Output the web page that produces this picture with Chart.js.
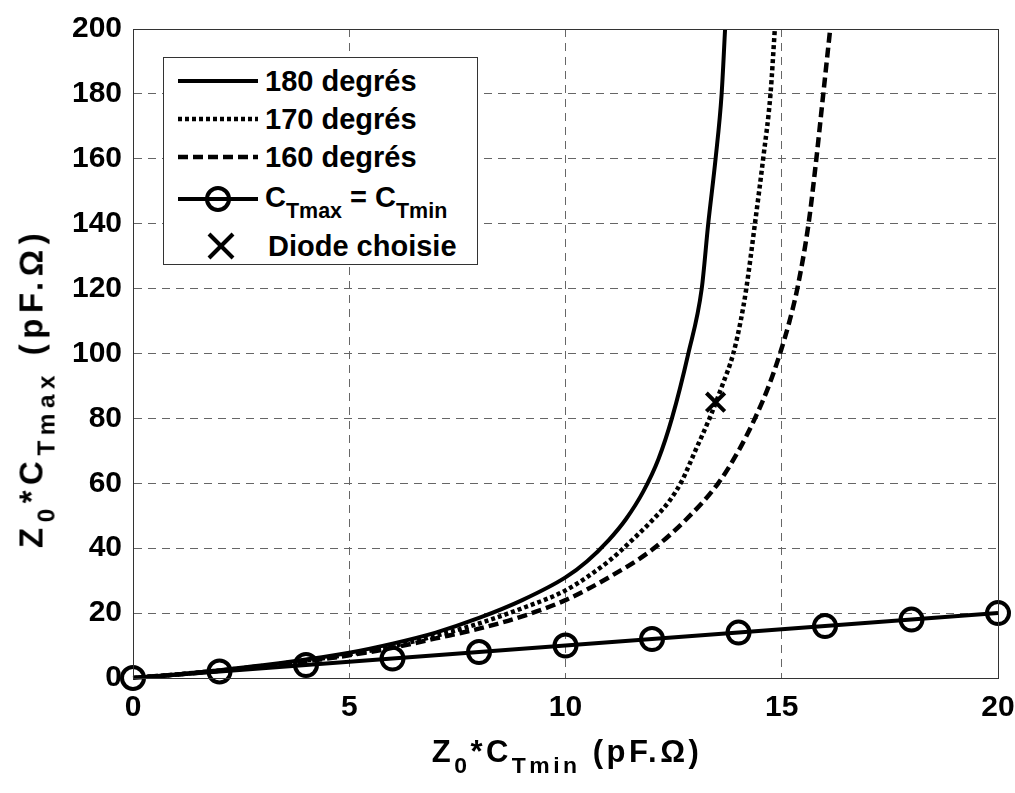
<!DOCTYPE html>
<html>
<head>
<meta charset="utf-8">
<script src="https://cdn.jsdelivr.net/npm/chart.js@4.4.1/dist/chart.umd.min.js"></script>
<style>
  body { margin: 0; background: #fff; }
  #wrap { position: relative; width: 1015px; height: 793px; font-family: "Liberation Sans", Arial, sans-serif; font-weight: bold; color: #000; }
  #chart { position: absolute; left: 0; top: 0; }
  sub { font-size: 74%; vertical-align: -0.5em; line-height: 0; }
  .ttl { position: absolute; font-size: 31px; letter-spacing: 3.5px; white-space: nowrap; line-height: 1; }
  #xTitle { left: 567px; top: 736px; transform: translateX(-50%); }
  #yTitle { left: 31px; top: 388px; font-size: 33px; letter-spacing: 5.5px; transform: translate(-50%, -50%) rotate(-90deg); }
  #legend { position: absolute; left: 163px; top: 57px; width: 313px; height: 206px; border: 1px solid #333; background: #fff; }
  #legend svg { position: absolute; left: 0; top: 0; }
  .lg { position: absolute; left: 101px; font-size: 29px; white-space: nowrap; line-height: 1; }
</style>
</head>
<body>
<div id="wrap">
  <canvas id="chart" width="1015" height="793"></canvas>
  <div id="yTitle" class="ttl">Z<sub>0</sub>*C<sub>Tmax</sub> (pF.Ω)</div>
  <div id="xTitle" class="ttl">Z<sub>0</sub>*C<sub>Tmin</sub> (pF.Ω)</div>
  <div id="legend">
    <svg width="313" height="206">
      <line x1="14" y1="23" x2="94" y2="23" stroke="#000" stroke-width="4"/>
      <line x1="14" y1="61" x2="94" y2="61" stroke="#000" stroke-width="4.5" stroke-dasharray="4 3"/>
      <line x1="14" y1="99" x2="94" y2="99" stroke="#000" stroke-width="4.5" stroke-dasharray="10 5"/>
      <line x1="14" y1="141" x2="94" y2="141" stroke="#000" stroke-width="4"/>
      <circle cx="54" cy="141" r="11" fill="none" stroke="#000" stroke-width="4"/>
      <line x1="45" y1="176" x2="69" y2="200" stroke="#000" stroke-width="4"/>
      <line x1="69" y1="176" x2="45" y2="200" stroke="#000" stroke-width="4"/>
    </svg>
    <div class="lg" style="top:9px">180 degrés</div>
    <div class="lg" style="top:47px">170 degrés</div>
    <div class="lg" style="top:85px">160 degrés</div>
    <div class="lg" style="top:125px">C<sub>Tmax</sub> = C<sub>Tmin</sub></div>
    <div class="lg" style="top:174px; left:104px">Diode choisie</div>
  </div>
</div>
<script>
// 180 degrés
const x180 = [0, 1, 2, 3, 4, 5, 6, 7, 8, 9, 10, 10.5, 11, 11.4, 11.8, 12.15, 12.46, 12.84, 13.15, 13.3, 13.47, 13.61, 13.69];
const y180 = [0, 1.1, 2.4, 3.9, 5.7, 7.8, 10.6, 14, 18.5, 24, 31, 36, 42.5, 49, 57.5, 67.5, 80, 100, 120, 140, 160, 180, 200];
// 170 degrés
const x170 = [0, 1, 2, 3, 4, 5, 6, 7, 8, 9, 10, 11, 11.5, 12, 12.4, 12.7, 13.0, 13.33, 13.62, 13.88, 14.05, 14.18, 14.38, 14.57, 14.74, 14.84];
const y170 = [0, 1.1, 2.3, 3.7, 5.4, 7.3, 9.8, 13, 16.8, 21.5, 27, 36, 42, 48.5, 54.5, 61, 70, 80, 90, 100, 110, 120, 140, 160, 180, 200];
// 160 degrés
const x160 = [0, 1, 2, 3, 4, 5, 6, 7, 8, 9, 10, 11, 12, 12.8, 13.53, 14.0, 14.38, 14.7, 14.96, 15.18, 15.36, 15.62, 15.8, 15.96, 16.12];
const y160 = [0, 1.05, 2.2, 3.5, 5.1, 7, 9.3, 12.2, 15.2, 19, 24, 31, 39.5, 49, 60, 70, 80, 90, 100, 110, 120, 140, 160, 180, 200];
// CTmax = CTmin
const xEq = [0, 2, 4, 6, 8, 10, 12, 14, 16, 18, 20];
const yEq = [0, 2, 4, 6, 8, 10, 12, 14, 16, 18, 20];
// Diode choisie
const xDiode = [13.47];
const yDiode = [85];

const xTicks = [0, 5, 10, 15, 20];
const yTicks = [0, 20, 40, 60, 80, 100, 120, 140, 160, 180, 200];

function pts(xs, ys) {
    return xs.map((x, i) => ({ x: x, y: ys[i] }));
}

// cadre complet autour de la zone du graphe
const boxPlugin = {
    id: 'box',
    afterDraw(chart) {
        const a = chart.chartArea;
        const ctx = chart.ctx;
        ctx.save();
        ctx.strokeStyle = '#333';
        ctx.lineWidth = 1;
        ctx.strokeRect(a.left + 0.5, a.top + 0.5, a.right - a.left, a.bottom - a.top);
        ctx.restore();
    }
};

const lineBase = { borderColor: '#000', pointRadius: 0, fill: false, showLine: true, cubicInterpolationMode: 'monotone' };
const tickFont = { family: 'Liberation Sans', size: 30, weight: 'bold' };

new Chart(document.getElementById('chart'), {
    type: 'scatter',
    data: {
        datasets: [
            Object.assign({ label: '180 degrés', data: pts(x180, y180), borderWidth: 4 }, lineBase),
            Object.assign({ label: '170 degrés', data: pts(x170, y170), borderWidth: 4.5, borderDash: [4, 3] }, lineBase),
            Object.assign({ label: '160 degrés', data: pts(x160, y160), borderWidth: 4.5, borderDash: [10, 5] }, lineBase),
            {
                label: 'CTmax = CTmin', data: pts(xEq, yEq), showLine: true, borderColor: '#000', borderWidth: 4,
                pointRadius: 11, pointBorderWidth: 4, pointBackgroundColor: 'rgba(0,0,0,0)', pointBorderColor: '#000',
                clip: false
            },
            {
                label: 'Diode choisie', data: pts(xDiode, yDiode), showLine: false, pointStyle: 'crossRot',
                pointRadius: 13, pointBorderWidth: 4, pointBorderColor: '#000', borderColor: '#000', clip: false
            }
        ]
    },
    options: {
        responsive: false,
        animation: false,
        layout: { padding: { top: 29, right: 17, left: 0, bottom: 0 } },
        plugins: { legend: { display: false }, tooltip: { enabled: false } },
        scales: {
            x: {
                type: 'linear', min: 0, max: 20,
                afterFit: s => { s.height = 115; s.paddingLeft = 0; s.paddingRight = 0; },
                afterBuildTicks: s => { s.ticks = xTicks.map(v => ({ value: v })); },
                ticks: { color: '#000', padding: 12, font: tickFont },
                grid: { color: '#666', lineWidth: 1, drawTicks: false },
                border: { display: true, color: '#333', dash: [8, 6] }
            },
            y: {
                type: 'linear', min: 0, max: 200,
                afterFit: s => { s.width = 133; s.paddingTop = 0; s.paddingBottom = 0; },
                afterBuildTicks: s => { s.ticks = yTicks.map(v => ({ value: v })); },
                ticks: { color: '#000', padding: 11, font: tickFont },
                grid: { color: '#666', lineWidth: 1, drawTicks: false },
                border: { display: true, color: '#333', dash: [8, 6] }
            }
        }
    },
    plugins: [boxPlugin]
});
</script>
</body>
</html>
